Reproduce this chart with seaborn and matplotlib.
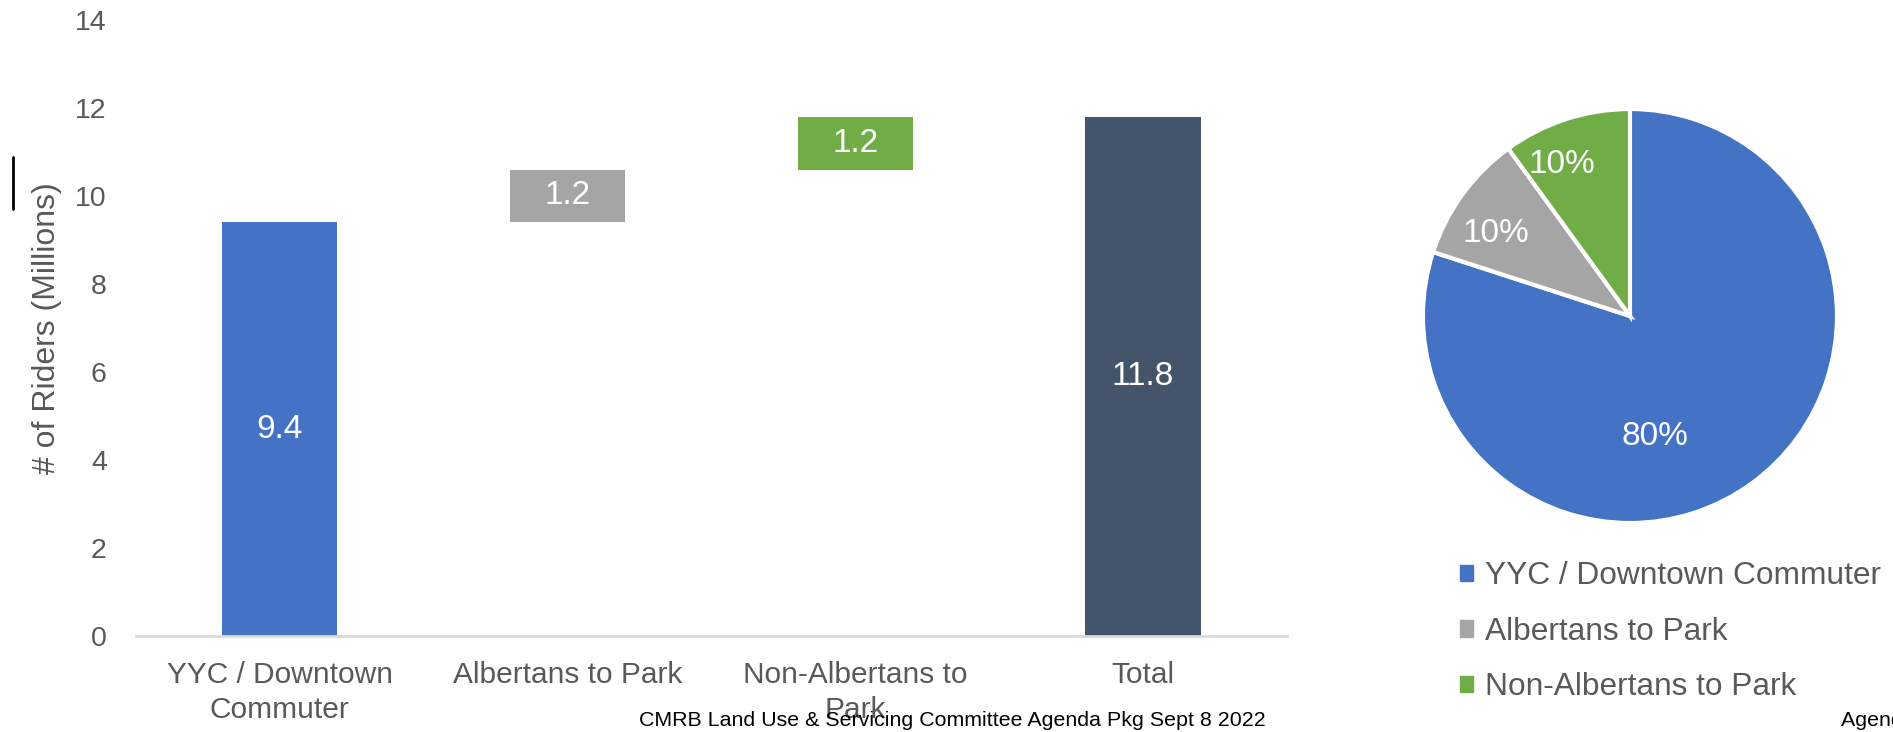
import numpy as np
import matplotlib.pyplot as plt
import matplotlib.lines as mlines
import matplotlib.patches as mpatches
import seaborn as sns

# waterfall data (millions of riders)
categories = ["YYC / Downtown\nCommuter", "Albertans to Park", "Non-Albertans to\nPark", "Total"]
increments = [9.4, 1.2, 1.2, 11.8]
bases = [0.0, 9.4, 10.6, 0.0]
bar_labels = ["9.4", "1.2", "1.2", "11.8"]
bar_colors = ["#4472C4", "#A5A5A5", "#70AD47", "#44546A"]

# share split
pie_names = ["YYC / Downtown Commuter", "Albertans to Park", "Non-Albertans to Park"]
pie_shares = [80, 10, 10]
pie_colors = ["#4472C4", "#A5A5A5", "#70AD47"]

sns.set_theme(style="white")
plt.rcParams["font.family"] = ["Liberation Sans", "DejaVu Sans"]
text_grey = "#595959"

fig = plt.figure(figsize=(18.93, 7.32), dpi=100)

# --- waterfall bars ---
ax = fig.add_axes([0.0718, 0.1311, 0.6080, 0.8416])
sns.barplot(x=categories, y=increments, hue=categories, palette=bar_colors,
            saturation=1, width=0.4, legend=False, linewidth=0, ax=ax)
for patch, base in zip(ax.patches, bases):
    patch.set_y(base)
for cont, lab in zip(ax.containers, bar_labels):
    ax.bar_label(cont, labels=[lab], label_type="center", color="white", fontsize=24)

ax.set_ylim(0, 14)
ax.set_xlim(-0.5, 3.5)
ax.set_yticks(np.arange(0, 15, 2))
ax.tick_params(axis="y", labelsize=20.5, labelcolor=text_grey, length=0, pad=21)
ax.tick_params(axis="x", labelsize=21.5, labelcolor=text_grey, length=0, pad=18)
for t in ax.get_xticklabels():
    t.set_linespacing(1.3)
ax.set_ylabel("# of Riders (Millions)", fontsize=23, color=text_grey)
ax.yaxis.set_label_coords(-0.064, 0.5)
for s in ["top", "right", "left"]:
    ax.spines[s].set_visible(False)
ax.spines["bottom"].set_color("#D9D9D9")
ax.spines["bottom"].set_linewidth(2)

# --- pie ---
pax = fig.add_axes([0.7517, 0.2855, 0.2187, 0.5656])
wedges, _, autotexts = pax.pie(pie_shares, colors=pie_colors, startangle=90, counterclock=False,
                               autopct="%d%%", pctdistance=0.77,
                               wedgeprops=dict(edgecolor="white", linewidth=3),
                               textprops=dict(color="white", fontsize=24))
autotexts[0].set_position((0.12, -0.58))
autotexts[1].set_position((-0.65, 0.40))
autotexts[2].set_position((-0.33, 0.73))
pax.set_xlim(-1, 1)
pax.set_ylim(-1, 1)
pax.set_aspect("equal")
pax.axis("off")

handles = [mpatches.Patch(color=c) for c in pie_colors]
fig.legend(handles, pie_names, loc="upper left", bbox_to_anchor=(0.771, 0.233),
           frameon=False, fontsize=22.8, labelcolor=text_grey,
           handlelength=0.42, handleheight=0.42, handletextpad=0.4, labelspacing=0.8,
           borderaxespad=0, borderpad=0)

# stray marks from the source page
fig.add_artist(mlines.Line2D([0.0069, 0.0069], [1 - 157 / 732, 1 - 209 / 732], color="black", linewidth=2))
fig.text(0.503, 1 - 721 / 732, "CMRB Land Use & Servicing Committee Agenda Pkg Sept 8 2022",
         ha="center", va="center", fontsize=15.4, color="black")
fig.text(0.9725, 1 - 721 / 732, "Agenda Page", ha="left", va="center", fontsize=15.4, color="black")

fig.savefig("out.png", dpi=100)
